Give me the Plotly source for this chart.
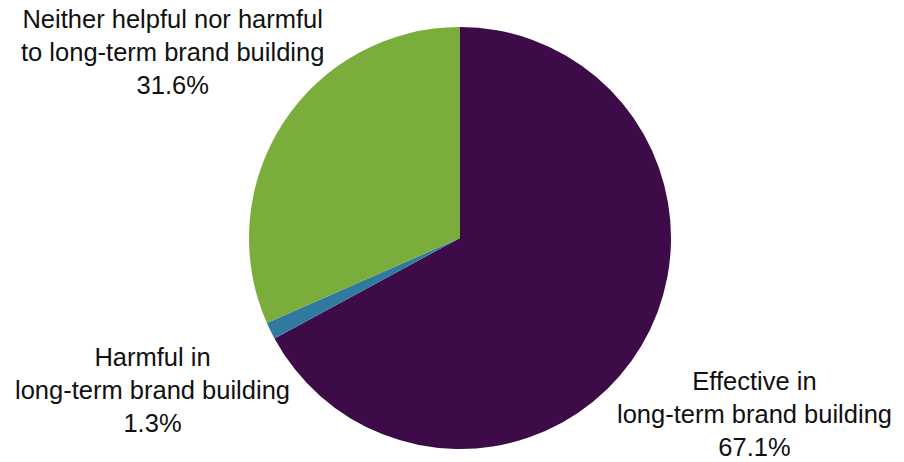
import plotly.graph_objects as go

labels = ["Effective in<br>long-term brand building",
          "Harmful in<br>long-term brand building",
          "Neither helpful nor harmful<br>to long-term brand building"]
values = [67.1, 1.3, 31.6]
colors = ["#3d0b47", "#2f7a9e", "#7aad3c"]

label_pos = [(754, 414), (152, 390), (172, 52)]  # pixel centres of label blocks

W, H = 904, 462
fig = go.Figure(go.Pie(
    labels=labels, values=values, sort=False, direction="clockwise", rotation=0,
    marker=dict(colors=colors, line=dict(width=0)),
    textinfo="none", hoverinfo="label+percent",
    domain=dict(x=[249 / W, 671 / W], y=[1 - 449 / H, 1 - 27 / H]),
    showlegend=False,
))

for lab, val, (px, py) in zip(labels, values, label_pos):
    fig.add_annotation(
        x=px / W, y=1 - py / H, xref="paper", yref="paper",
        text=f"{lab}<br>{val:.1f}%", showarrow=False, borderpad=0,
        xanchor="center", yanchor="middle", align="center",
        font=dict(family="Liberation Sans, Arial, sans-serif", size=25.5, color="#111111"),
    )

fig.update_layout(width=W, height=H, margin=dict(l=0, r=0, t=0, b=0),
                  paper_bgcolor="white", plot_bgcolor="white")
fig.write_html("out.html")
